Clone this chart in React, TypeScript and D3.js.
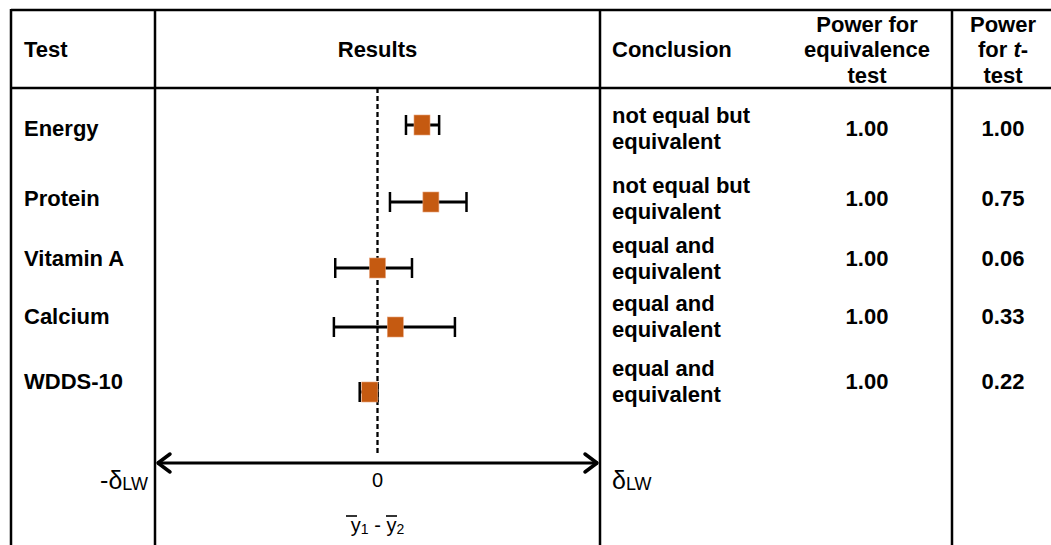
import React from 'react'
import * as d3 from 'd3'

const width = 1051
const height = 545

// data (difference in units of delta_LW)
const tests = ['Energy', 'Protein', 'Vitamin A', 'Calcium', 'WDDS-10']
const meanDiff = [0.2, 0.24, 0.0, 0.08, -0.035]
const ciLow = [0.128, 0.056, -0.19, -0.196, -0.08]
const ciHigh = [0.277, 0.4, 0.155, 0.348, 0.0]
const conclusions = [
    ['not equal but', 'equivalent'],
    ['not equal but', 'equivalent'],
    ['equal and', 'equivalent'],
    ['equal and', 'equivalent'],
    ['equal and', 'equivalent'],
]
const powerEquiv = ['1.00', '1.00', '1.00', '1.00', '1.00']
const powerT = ['1.00', '0.75', '0.06', '0.33', '0.22']

// layout
const colX = [11, 155, 600, 952]
const topY = 10
const headY = 88
const rowY = [128, 198, 258, 316, 381]
const markY = [125, 202, 268, 327, 392]
const axisY = 463
const font = '"Liberation Sans", Arial, sans-serif'
const fs = 22
const orange = '#c55a11'

const x = d3.scaleLinear().domain([-1, 1]).range([colX[1], colX[2]])

const App = () => {
    const bold = { fontFamily: font, fontSize: fs, fontWeight: 700, fill: '#000' }
    const plain = { fontFamily: font, fontSize: 20, fill: '#000' }
    const capH = 7.8
    return (
        <svg width={width} height={height} style={{ position: 'absolute', left: 0, top: 0 }}>
            <rect width={width} height={height} fill="#fff" />
            {/* grid */}
            <line x1={colX[0]} x2={width} y1={topY} y2={topY} stroke="#000" strokeWidth={2.5} />
            <line x1={colX[0]} x2={width} y1={headY} y2={headY} stroke="#000" strokeWidth={2.5} />
            {colX.map((cx) => (
                <line key={cx} x1={cx} x2={cx} y1={topY - 1} y2={height} stroke="#000" strokeWidth={2.5} />
            ))}

            {/* header */}
            <text x={24} y={49 + capH} {...bold}>Test</text>
            <text x={x(0)} y={49 + capH} textAnchor="middle" {...bold}>Results</text>
            <text x={612} y={49 + capH} {...bold}>Conclusion</text>
            {['Power for', 'equivalence', 'test'].map((t, i) => (
                <text key={t} x={867} y={24 + capH + i * 25.5} textAnchor="middle" {...bold}>{t}</text>
            ))}
            <text x={1003} y={24 + capH} textAnchor="middle" {...bold}>Power</text>
            <text x={1003} y={49.5 + capH} textAnchor="middle" {...bold}>
                for <tspan fontStyle="italic">t</tspan>-
            </text>
            <text x={1003} y={75 + capH} textAnchor="middle" {...bold}>test</text>

            {/* zero line */}
            <line x1={x(0)} x2={x(0)} y1={headY} y2={456} stroke="#000" strokeWidth={2.3} strokeDasharray="5,3" />

            {/* rows */}
            {tests.map((t, i) => (
                <g key={t}>
                    <text x={24} y={rowY[i] + capH} {...bold}>{t}</text>
                    {conclusions[i].map((c, j) => (
                        <text key={j} x={612} y={rowY[i] - 13 + j * 26 + capH} {...bold}>{c}</text>
                    ))}
                    <text x={867} y={rowY[i] + capH} textAnchor="middle" {...bold}>{powerEquiv[i]}</text>
                    <text x={1003} y={rowY[i] + capH} textAnchor="middle" {...bold}>{powerT[i]}</text>
                    <line x1={x(ciLow[i])} x2={x(ciHigh[i])} y1={markY[i]} y2={markY[i]} stroke="#000" strokeWidth={3} />
                    {[ciLow[i], ciHigh[i]].map((v, k) => (
                        <line key={k} x1={x(v)} x2={x(v)} y1={markY[i] - 10} y2={markY[i] + 10} stroke="#000" strokeWidth={2.5} />
                    ))}
                    <rect x={x(meanDiff[i]) - 8} y={markY[i] - 10} width={16} height={20} fill={orange} stroke="#e8a27a" strokeWidth={0.6} />
                </g>
            ))}

            {/* axis arrow */}
            <line x1={colX[1] + 2} x2={colX[2] - 2} y1={axisY} y2={axisY} stroke="#000" strokeWidth={3} />
            <path
                d={`M${colX[1] + 15},${axisY - 9} L${colX[1] + 3},${axisY} L${colX[1] + 15},${axisY + 9}`}
                fill="none" stroke="#000" strokeWidth={3.5} strokeLinecap="round" strokeLinejoin="round"
            />
            <path
                d={`M${colX[2] - 15},${axisY - 9} L${colX[2] - 3},${axisY} L${colX[2] - 15},${axisY + 9}`}
                fill="none" stroke="#000" strokeWidth={3.5} strokeLinecap="round" strokeLinejoin="round"
            />
            <text x={x(0)} y={487} textAnchor="middle" {...plain}>0</text>
            <text x={148} y={489} textAnchor="end" {...plain} fontSize={25}>
                -δ<tspan fontSize={18} dy={1}>LW</tspan>
            </text>
            <text x={612} y={489} {...plain} fontSize={25}>
                δ<tspan fontSize={18} dy={1}>LW</tspan>
            </text>
            {/* y1 bar - y2 bar */}
            <text x={x(0)} y={532} textAnchor="middle" {...plain} fontSize={20}>
                y<tspan fontSize={14} dy={2}>1</tspan><tspan dy={-2}> - y</tspan><tspan fontSize={14} dy={2}>2</tspan>
            </text>
            <line x1={346} x2={357} y1={516} y2={516} stroke="#000" strokeWidth={1.6} />
            <line x1={386} x2={397} y1={516} y2={516} stroke="#000" strokeWidth={1.6} />
        </svg>
    )
}

export default App
